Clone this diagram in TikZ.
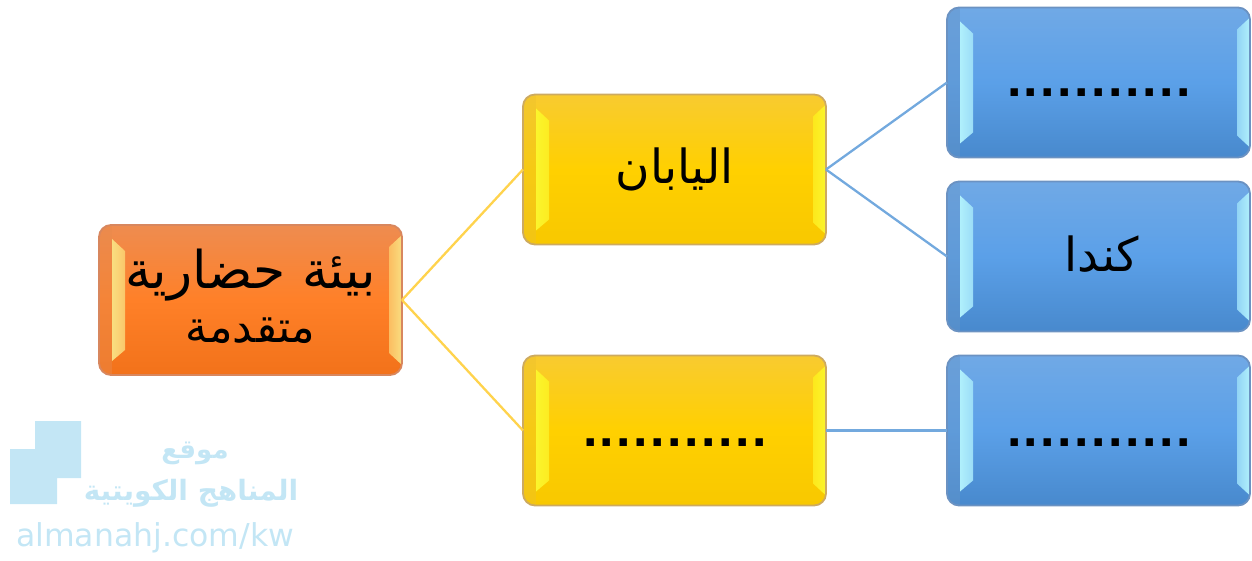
\documentclass[tikz,border=0pt]{standalone}
\usepackage{fontspec}
\setmainfont{Liberation Sans}
\newfontfamily\arabicfont[Script=Arabic]{DejaVu Sans}
\newfontfamily\latinmark{DejaVu Sans}
\newfontfamily\dotfont[LetterSpace=4.8]{Liberation Sans Bold}
\TeXXeTstate=1
\definecolor{orTop}{HTML}{EE8C50}\definecolor{orMid}{HTML}{FF8028}\definecolor{orBot}{HTML}{F2721A}
\definecolor{orEdge}{HTML}{D8875E}\definecolor{orStrip}{HTML}{F9DE80}\definecolor{orBand}{HTML}{E88A4C}
\definecolor{yeTop}{HTML}{F8CB30}\definecolor{yeMid}{HTML}{FFD000}\definecolor{yeBot}{HTML}{F8C800}
\definecolor{yeEdge}{HTML}{CDAA60}\definecolor{yeStrip}{HTML}{FBF52C}\definecolor{yeBand}{HTML}{EDC22C}
\definecolor{blTop}{HTML}{70A9E6}\definecolor{blMid}{HTML}{5BA0E8}\definecolor{blBot}{HTML}{4889CD}
\definecolor{blEdge}{HTML}{6B92C2}\definecolor{blStrip}{HTML}{B0F0FC}\definecolor{blBand}{HTML}{6595C8}
\definecolor{lineYe}{HTML}{FFD34D}\definecolor{lineBl}{HTML}{73A9DE}
\definecolor{wmcolor}{HTML}{C3E6F5}
\tikzset{
  bevelbox/.style={
    rounded corners=12pt, minimum width=303pt, minimum height=150pt,
    inner sep=0pt, outer sep=0pt, line width=1.8pt, draw=#1Edge,
    top color=#1Top, bottom color=#1Bot, middle color=#1Mid,
    font=\fontsize{47}{58}\selectfont\arabicfont, align=center, text=black,
    path picture={
      \fill[sharp corners,#1Band,opacity=.45] (path picture bounding box.north west)
        rectangle ([xshift=13pt]path picture bounding box.south west);
      \shade[sharp corners,left color=#1Strip,right color=#1Strip!75!#1Mid]
        ([xshift=13pt,yshift=-14pt]path picture bounding box.north west)
        -- ([xshift=26pt,yshift=-26pt]path picture bounding box.north west)
        -- ([xshift=26pt,yshift=25pt]path picture bounding box.south west)
        -- ([xshift=13pt,yshift=14pt]path picture bounding box.south west) -- cycle;
      \shade[sharp corners,left color=#1Strip!65!#1Mid,right color=#1Strip]
        ([yshift=-10pt]path picture bounding box.north east)
        -- ([xshift=-13pt,yshift=-22pt]path picture bounding box.north east)
        -- ([xshift=-13pt,yshift=22pt]path picture bounding box.south east)
        -- ([yshift=10pt]path picture bounding box.south east) -- cycle;
    }},
  linkye/.style={draw=lineYe, line width=2.3pt},
  linkbl/.style={draw=lineBl, line width=2.3pt},
  dotstext/.style={font=\fontsize{52}{52}\selectfont\dotfont, inner sep=0pt},
  markar/.style={text=wmcolor, font=\fontsize{26}{26}\selectfont\arabicfont\bfseries, inner sep=0pt},
  markla/.style={text=wmcolor, font=\fontsize{31.5}{32}\selectfont\latinmark, inner sep=0pt}
}
\begin{document}
\begin{tikzpicture}[x=1pt,y=-1pt]
\useasboundingbox (0,0) rectangle (1252,561);
% watermark
\fill[wmcolor] (35,421) -- (81,421) -- (81,478) -- (57,478) -- (57,504) -- (10,504) -- (10,449) -- (35,449) -- cycle;
\node[markar] (wm1) at (195,453) {\beginR موقع\endR};
\node[markar,font=\fontsize{28}{28}\selectfont\arabicfont\bfseries] (wm2) at (191,493) {\beginR المناهج الكويتية\endR};
\node[markla] (wm3) at (155,538) {almanahj.com/kw};
% boxes
\node[bevelbox=or] (root) at (250.5,300) {\raisebox{5pt}{\fontsize{52}{58}\selectfont\beginR بيئة حضارية\endR}\\\raisebox{9pt}{\fontsize{44}{58}\selectfont\beginR متقدمة\endR}};
\node[bevelbox=ye] (japan) at (674.5,169.5) {\beginR اليابان\endR};
\node[bevelbox=ye] (other) at (674.5,430.5) {};
\node[bevelbox=bl] (b1) at (1098.5,82.5) {};
\node[bevelbox=bl] (b2) at (1098.5,256.5) {\raisebox{5pt}{\beginR كندا\endR}\hspace*{-6pt}};
\node[bevelbox=bl] (b3) at (1098.5,430.5) {};
% dotted answers
\node[dotstext] (d1) at (1099,93) {...........};
\node[dotstext] (d2) at (675,443) {...........};
\node[dotstext] (d3) at (1099,443) {...........};
% connectors
\draw[linkye] (root.east) -- (japan.west);
\draw[linkye] (root.east) -- (other.west);
\draw[linkbl] (japan.east) -- (b1.west);
\draw[linkbl] (japan.east) -- (b2.west);
\draw[linkbl] (other.east) -- (b3.west);
\end{tikzpicture}
\end{document}
